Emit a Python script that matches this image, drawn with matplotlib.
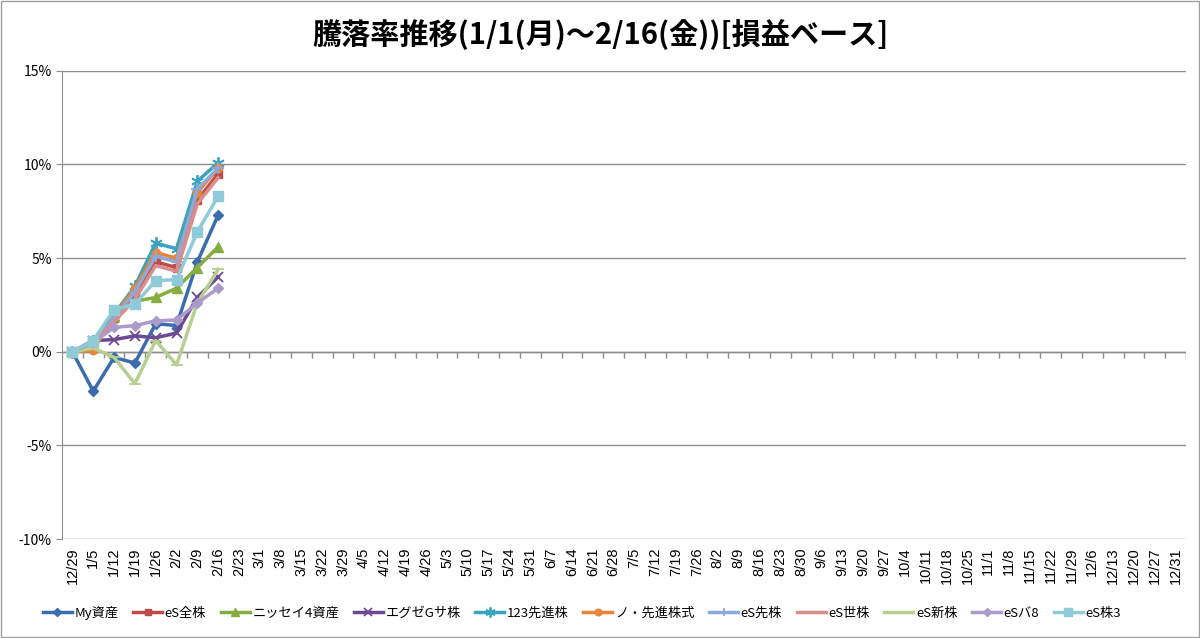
import matplotlib
matplotlib.use("Agg")
import matplotlib.pyplot as plt
from matplotlib.patches import Rectangle

plt.rcParams['font.family'] = ['Noto Sans CJK JP', 'DejaVu Sans']

# 横軸(週)
dates = ["12/29", "1/5", "1/12", "1/19", "1/26", "2/2", "2/9", "2/16", "2/23", "3/1", "3/8",
         "3/15", "3/22", "3/29", "4/5", "4/12", "4/19", "4/26", "5/3", "5/10", "5/17", "5/24",
         "5/31", "6/7", "6/14", "6/21", "6/28", "7/5", "7/12", "7/19", "7/26", "8/2", "8/9",
         "8/16", "8/23", "8/30", "9/6", "9/13", "9/20", "9/27", "10/4", "10/11", "10/18",
         "10/25", "11/1", "11/8", "11/15", "11/22", "11/29", "12/6", "12/13", "12/20",
         "12/27", "12/31"]

# 騰落率(%) 12/29～2/16
my_asset = [0, -2.1, -0.3, -0.6, 1.5, 1.4, 4.8, 7.3]
es_zen = [0, 0.5, 1.8, 3.0, 4.8, 4.5, 8.1, 9.5]
nissei4 = [0, 0.5, 1.9, 2.7, 2.9, 3.4, 4.5, 5.6]
exe_g = [0, 0.6, 0.65, 0.85, 0.75, 1.0, 2.9, 4.0]
k123 = [0, 0.6, 2.0, 3.5, 5.8, 5.5, 9.1, 10.1]
no_sen = [0, 0.1, 1.9, 3.4, 5.3, 5.0, 8.5, 9.8]
es_sen = [0, 0.5, 1.8, 3.2, 5.1, 4.8, 8.7, 9.8]
es_sei = [0, 0.5, 1.6, 2.8, 4.6, 4.3, 7.9, 9.3]
es_shin = [0, 0.2, -0.3, -1.7, 0.6, -0.7, 2.6, 4.4]
es_ba8 = [0, 0.5, 1.3, 1.4, 1.65, 1.7, 2.6, 3.4]
es_kabu3 = [0, 0.6, 2.25, 2.55, 3.8, 3.85, 6.4, 8.3]

labels = ["My資産", "eS全株", "ニッセイ4資産", "エグゼGサ株", "123先進株", "ノ・先進株式",
          "eS先株", "eS世株", "eS新株", "eSバ8", "eS株3"]
series = [my_asset, es_zen, nissei4, exe_g, k123, no_sen, es_sen, es_sei, es_shin, es_ba8, es_kabu3]
colors = ["#3A6CAE", "#BE4B48", "#86AD3F", "#6B4A94", "#3AA3BD", "#E8853A",
          "#8EA9DB", "#DA8E8C", "#B7CF90", "#AA9BCB", "#8ECAD8"]
markers = ["D", "s", "^", "x", (6, 2, 0), "o", "+", None, "_", "D", "s"]
msizes = [5, 6, 7, 7, 9, 6, 8, 0, 9, 5, 7]

fig = plt.figure(figsize=(12, 6.38), dpi=100)
ax = fig.add_axes([0.0517, 0.155, 0.9366, 0.734])

for vals, lab, c, m, ms in zip(series, labels, colors, markers, msizes):
    ax.plot(range(len(vals)), vals, color=c, marker=m, markersize=ms, lw=2.5,
            markeredgewidth=1.3 if m in ("x", "+", "_", (6, 2, 0)) else 1, label=lab)

ax.set_xlim(-0.5, len(dates) - 0.5)
ax.set_ylim(-10, 15)
ax.set_yticks([-10, -5, 0, 5, 10, 15])
ax.set_yticklabels(["-10%", "-5%", "0%", "5%", "10%", "15%"], fontsize=10)
ax.grid(axis="y", color="#8C8C8C", lw=1)
ax.set_axisbelow(True)

ax.set_xticks(range(len(dates)))
ax.set_xticklabels(dates, rotation=90, fontsize=10.5, family=['Liberation Sans', 'DejaVu Sans'])
ax.tick_params(axis="x", length=0, pad=6)
ax.tick_params(axis="y", length=4, color="#8C8C8C")

# 0%の位置に横軸
ax.axhline(0, color="#8C8C8C", lw=1, zorder=1)
ax.vlines([i + 0.5 for i in range(len(dates))], -0.35, 0, color="#8C8C8C", lw=1, zorder=1)

for s in ["top", "right", "bottom"]:
    ax.spines[s].set_visible(False)
ax.spines["left"].set_color("#8C8C8C")

fig.suptitle("騰落率推移(1/1(月)～2/16(金))[損益ベース]", fontsize=21, fontweight="bold", y=0.97)

fig.legend(loc="lower center", bbox_to_anchor=(0.485, 0.01), ncol=11, frameon=False,
           fontsize=9.5, handlelength=2.2, handletextpad=0.2, columnspacing=1.1, markerscale=0.8)

fig.patches.append(Rectangle((0.001, 0.001), 0.998, 0.997, transform=fig.transFigure,
                             fill=False, edgecolor="#A0A0A0", lw=1))

fig.savefig("out.png", dpi=100)
